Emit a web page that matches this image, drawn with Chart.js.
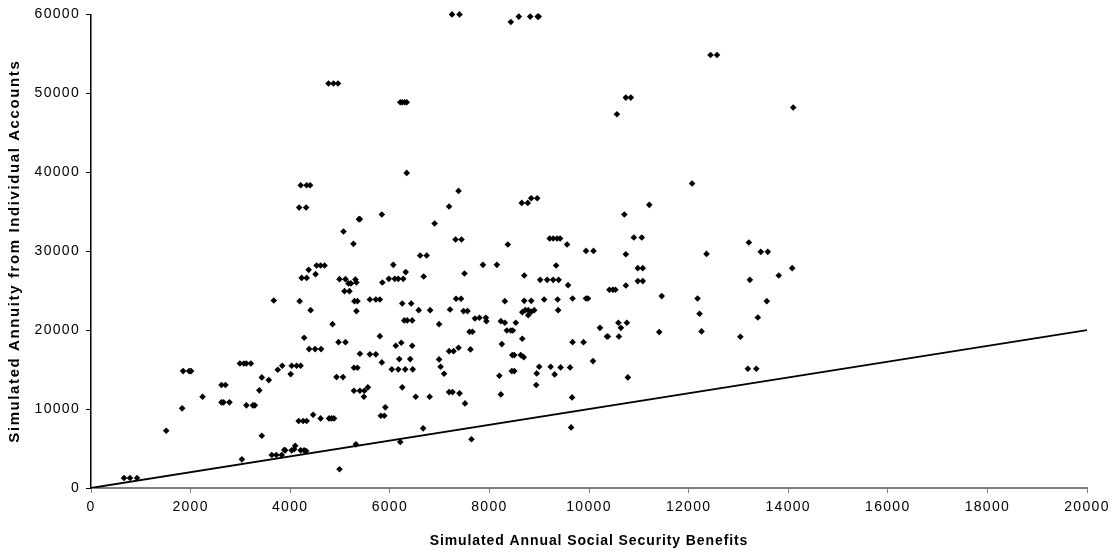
<!DOCTYPE html>
<html>
<head>
<meta charset="utf-8">
<script src="https://cdn.jsdelivr.net/npm/chart.js@4/dist/chart.umd.min.js"></script>
<style>
  html, body { margin: 0; padding: 0; background: #fff; }
  #chart { display: block; }
</style>
</head>
<body>
<canvas id="chart" width="1117" height="559"></canvas>
<script>
// Simulated annual Social Security benefits (x) for each simulated worker
const benefitX = [
  663, 783, 924, 1510, 1830, 1850, 1970, 2010, 2240, 2620, 2660, 2780, 2620, 2700,
  3030, 2990, 3070, 3120, 3210, 3120, 3250, 3290, 3380, 3430, 3430, 3570, 3670, 3750,
  3840, 3630, 3720, 3830, 3880,
  3900, 4030, 4080, 4100, 4210, 4280, 4320, 4030, 4130, 4210, 4010, 4170, 4260, 4330,
  4460, 4610, 4780, 4830, 4880, 4990, 4280, 4380, 4500, 4620, 4190, 4410, 4230, 4330,
  4370, 4510, 4530, 4610, 4690, 4850, 4970, 5110, 4930, 5060, 4990, 5090, 5190, 5110,
  5170, 5220, 5310, 5330, 5290, 5350, 5330, 5280, 5350, 5400, 5280, 5400, 5490, 5560,
  5480, 5320, 5600, 5720, 5800, 5600, 5720, 5800, 5840, 5850, 5980, 6100, 6170, 6270,
  6070, 6320, 6680, 6610, 6740, 6250, 6430, 6580, 6810, 6290, 6350, 6450, 6990, 7210,
  7330, 7430, 7480, 7500, 6120, 6230, 6450, 6190, 6410, 6040, 6170, 6310, 6460, 6250,
  6520, 6800, 6990, 7020, 7090, 7190, 7280, 7380, 7190, 7260, 7400, 7510, 5820, 5890,
  5910, 6670, 6210,
  7640, 7560, 7870, 8150, 7710, 7800, 7930, 7940, 7600, 7660, 7620, 8200, 8230, 8250,
  8230, 8310, 8310, 8350, 8430, 8470, 8530, 8460, 8500, 8630, 8690, 8450, 8500, 8660,
  8700, 8660, 8720, 8780, 8840, 8900, 8700, 8840, 8780, 9020, 9160, 9280, 9390, 9340,
  9100, 9370, 9380, 9580, 9670, 9940, 9980, 9940, 10090, 9000, 8950, 8940, 9230, 9310,
  9430, 9620, 9660, 9640, 9670, 9890, 10080, 10220, 10360, 10380, 10590, 10640, 10600,
  10760, 10410, 10480, 10530, 10740, 10780, 10740, 10980, 11080, 10980, 11080,
  12360, 11460, 11410, 12180, 12220, 12260, 13040, 13190, 13360, 13230, 13390, 13570,
  13450, 13590, 13810, 14080,
  7250, 7400, 4770, 4870, 4960, 6210, 6250, 6300, 6340, 6340, 4210, 4330, 4400, 4180,
  4320, 7380, 7190, 5380, 5400, 5840, 5070, 5270, 6900, 7320, 7440,
  8430, 8590, 8820, 8970, 8990, 10740, 10840, 10560, 8650, 8770, 8840, 8960, 10710,
  8370, 9210, 9280, 9360, 9420, 9560, 10900, 11060,
  12440, 12570, 14100, 12070, 11210, 13210
];

// Simulated annuity payable from the individual account (y), same order as benefitX
const annuityY = [
  1270, 1270, 1270, 7260, 10090, 14810, 14810, 14810, 11560, 10850, 10850, 10850, 13040, 13040,
  3630, 15780, 15780, 15780, 15780, 10470, 10470, 10470, 12370, 14010, 6620, 13670, 23760, 14980,
  15480, 4180, 4180, 4180, 4810,
  4770, 4770, 4900, 5360, 4770, 4770, 4680, 15480, 15480, 15480, 14430, 8480, 8480, 8480,
  9280, 8820, 8820, 8820, 8820, 2370, 19030, 17600, 17600, 17600, 23670, 22530, 26620, 26620,
  27640, 27090, 28190, 28190, 28190, 20760, 18480, 18480, 14050, 14050, 26460, 24940, 24940, 26460,
  25920, 25920, 26420, 26040, 23670, 23670, 22410, 15230, 15230, 17000, 12320, 12320, 12320, 12750,
  11560, 5530, 23890, 23890, 23890, 16930, 16930, 19240, 15910, 26040, 26500, 26500, 26500, 26500,
  28270, 27350, 26800, 29460, 29460, 23380, 23380, 22530, 22530, 21230, 21230, 21230, 20760, 22620,
  23970, 23970, 22410, 27180, 18020, 18400, 18020, 16330, 16330, 15030, 15030, 15030, 15030, 12750,
  11560, 11560, 16290, 15360, 14470, 17340, 17340, 17760, 12150, 12150, 11990, 10720, 9150, 9150,
  10220, 7560, 5820,
  6170, 22410, 28270, 28270, 21480, 21560, 21560, 21140, 19790, 19790, 17560, 14220, 11860, 18230,
  21140, 20930, 23670, 19960, 19960, 19960, 20930, 16840, 16840, 16840, 16580, 14810, 14810, 18900,
  26930, 22280, 22530, 22530, 22320, 22530, 23710, 23710, 21900, 26370, 26370, 26370, 26370, 28190,
  23890, 23890, 22530, 25700, 24010, 24010, 24010, 30040, 30040, 15360, 14520, 13040, 15360, 14390,
  15280, 15280, 11480, 7680, 18480, 18480, 16080, 20290, 19200, 19200, 20930, 20290, 19200,
  20930, 25110, 25110, 25110, 25660, 14010, 29620, 27850, 27850, 26210, 26210,
  29660, 24310, 19750, 24010, 22070, 19840, 19160, 15100, 15100, 26370, 21610, 23670,
  29920, 29920, 26930, 27850,
  60000, 60000, 51240, 51240, 51240, 48870, 48870, 48870, 48870, 39920, 38360, 38360, 38360, 35540,
  35540, 37640, 35660, 34060, 34060, 34650, 32500, 30930, 33510, 31490, 31490,
  59040, 59720, 59720, 59720, 59720, 49460, 49460, 47350, 36120, 36120, 36710, 36710, 34650,
  30850, 31610, 31610, 31610, 31610, 30850, 31740, 31740,
  54860, 54860, 48200, 38570, 35870, 31110
];

// Reference line where the annuity equals the Social Security benefit
const parityX = [0, 20000];
const parityY = [0, 20000];

// Axis ranges and tick steps
const xTicks = { min: 0, max: 20000, step: 2000 };
const yTicks = { min: 0, max: 60000, step: 10000 };

const xTitle = 'Simulated Annual Social Security Benefits';
const yTitle = 'Simulated Annuity from Individual Accounts';

const FONT = "'Liberation Sans', Arial, Helvetica, sans-serif";

const scatterPoints = benefitX.map((x, i) => ({ x: x, y: annuityY[i] }));
const parityPoints = parityX.map((x, i) => ({ x: x, y: parityY[i] }));

// Widen the axis text a little by drawing it with extra letter spacing
const spacing = { ticks: { x: '1.3px', y: '1.3px' }, title: { x: '0.9px', y: '1.6px' } };
const letterSpacingPlugin = {
  id: 'axisLetterSpacing',
  beforeDraw(chart) {
    const ctx = chart.ctx;
    Object.values(chart.scales).forEach((s) => {
      if (s.$spaced) return;
      s.$spaced = true;
      const wrap = (name, value) => {
        const orig = s[name].bind(s);
        s[name] = function (...args) {
          ctx.save();
          ctx.letterSpacing = value;
          orig(...args);
          ctx.restore();
        };
      };
      wrap('drawLabels', spacing.ticks[s.axis]);
      wrap('drawTitle', spacing.title[s.axis]);
    });
  }
};

new Chart(document.getElementById('chart'), {
  type: 'scatter',
  data: {
    datasets: [
      {
        label: 'Workers',
        data: scatterPoints,
        pointStyle: 'rectRot',
        pointRadius: 3.3,
        pointBorderWidth: 0,
        backgroundColor: '#000',
        borderColor: '#000',
        clip: false
      },
      {
        label: 'Parity',
        data: parityPoints,
        showLine: true,
        pointRadius: 0,
        borderColor: '#000',
        borderWidth: 1.8,
        fill: false
      }
    ]
  },
  plugins: [letterSpacingPlugin],
  options: {
    responsive: false,
    animation: false,
    devicePixelRatio: 1,
    events: [],
    layout: { padding: { top: 14, right: 30, left: 0, bottom: 0 } },
    plugins: {
      legend: { display: false },
      tooltip: { enabled: false }
    },
    scales: {
      x: {
        type: 'linear',
        min: xTicks.min,
        max: xTicks.max,
        afterFit: (s) => { s.height = 71; },
        ticks: {
          stepSize: xTicks.step,
          color: '#000',
          padding: 6,
          maxRotation: 0,
          autoSkip: false,
          callback: (v) => String(v),
          font: { family: FONT, size: 14 }
        },
        grid: {
          drawOnChartArea: false,
          drawTicks: true,
          tickLength: 5,
          tickWidth: 1,
          color: '#808080'
        },
        border: { display: true, color: '#808080', width: 2 },
        title: {
          display: true,
          text: xTitle,
          color: '#000',
          font: { family: FONT, size: 14, weight: 'bold' },
          padding: { top: 0, bottom: 9.5 }
        }
      },
      y: {
        type: 'linear',
        min: yTicks.min,
        max: yTicks.max,
        afterFit: (s) => { s.width = 91; },
        ticks: {
          stepSize: yTicks.step,
          color: '#000',
          padding: 6,
          autoSkip: false,
          callback: (v) => String(v),
          font: { family: FONT, size: 14 }
        },
        grid: {
          drawOnChartArea: false,
          drawTicks: true,
          tickLength: 5,
          tickWidth: 1,
          color: '#000'
        },
        border: { display: true, color: '#000', width: 1.5 },
        title: {
          display: true,
          text: yTitle,
          color: '#000',
          font: { family: FONT, size: 15, weight: 'bold' },
          padding: { top: 6, bottom: 0 }
        }
      }
    }
  }
});
</script>
</body>
</html>
